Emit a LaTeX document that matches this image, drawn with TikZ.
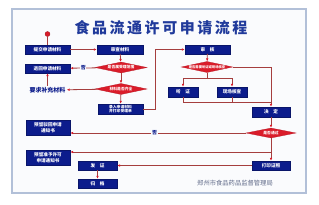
\documentclass[tikz,border=0pt]{standalone}
\usepackage{fontspec}
\setmainfont{Noto Sans CJK SC}
\usetikzlibrary{arrows.meta,positioning,shapes.geometric}
\definecolor{Navy}{RGB}{12,28,140}
\definecolor{FlowRed}{RGB}{218,28,42}
\definecolor{Wire}{RGB}{165,62,62}
\definecolor{TitleBlue}{RGB}{32,58,155}
\definecolor{FrameBlue}{RGB}{178,192,216}
\definecolor{Paper}{RGB}{250,251,253}
\definecolor{FootGray}{RGB}{98,108,138}
\tikzset{
  >={Latex[length=3pt,width=2.6pt,color=FlowRed]},
  box/.style={draw=Navy!75!black,line width=.4pt,fill=Navy,text=white,font=\fontsize{4.6}{5.6}\selectfont\bfseries,align=center,inner sep=0pt,minimum height=8.5pt},
  decision/.style={diamond,aspect=4.7,draw=FlowRed!85!black,line width=.3pt,fill=FlowRed,text=white,font=\fontsize{3.8}{4}\selectfont\bfseries,inner sep=0pt,minimum width=52pt,minimum height=11pt},
  wire/.style={draw=Wire,line width=.8pt},
  flow/.style={wire,->},
  no/.style={fill=Paper,inner sep=.6pt,text=Navy,font=\fontsize{5}{5}\selectfont\bfseries},
  note/.style={text=Navy,font=\fontsize{6}{6}\selectfont\bfseries,inner sep=1pt},
  startdot/.style={circle,fill=FlowRed,draw=FlowRed!70!black,line width=.3pt,minimum size=5pt,inner sep=0pt}
}
\begin{document}
\begin{tikzpicture}[x=1pt,y=-1pt]
  \useasboundingbox (0,0) rectangle (319,204);
  \draw[FrameBlue,line width=2.6pt,fill=Paper] (12,9) rectangle (306,193);
  \node[text=TitleBlue,font=\fontsize{15}{15}\selectfont\bfseries\addfontfeatures{LetterSpace=17}] (title) at (161,28) {食品流通许可申请流程};
  % left column
  \node[startdot] (start) at (47.5,34) {};
  \node[box,minimum width=45pt] (submit) at (47.5,49.5) {提交申请材料};
  \node[box,minimum width=46pt] (review) at (120,49.5) {审查材料};
  \node[decision] (scope) at (121,67.5) {是否属受理范围};
  \node[box,minimum width=45pt,minimum height=9pt] (reject) at (47.5,68.5) {退回申请材料};
  \node[note] (supply) at (47.5,90) {要求补充材料};
  \node[decision] (complete) at (121,89) {材料是否齐全};
  \node[box,minimum width=45pt,minimum height=10pt,font=\fontsize{3.8}{4.4}\selectfont\bfseries] (enter) at (120.5,109) {录入申请材料\\并打印受理单};
  % right column
  \node[box,minimum width=45pt] (audit) at (207.5,49.5) {审\quad 核};
  \node[decision,minimum width=51pt,font=\fontsize{3.3}{4}\selectfont\bfseries] (expert) at (207,67) {是否需要听证或现场核查};
  \node[box,minimum width=30pt,minimum height=10pt] (hear) at (183,92) {听\quad 证};
  \node[box,minimum width=30pt,minimum height=10pt] (site) at (232,92) {现场核查};
  \node[box,minimum width=38pt,minimum height=10pt] (decide) at (271,112) {决\quad 定};
  \node[decision,minimum width=50pt,minimum height=10pt] (pass) at (271,133) {是否通过};
  \node[box,minimum width=38pt,minimum height=9pt] (print) at (271,165.5) {打印证照};
  % results
  \node[box,minimum width=44pt,minimum height=15pt] (refuse) at (48,127.5) {预留驳回申请\\通知书};
  \node[box,minimum width=44pt,minimum height=15pt] (grant) at (48,157.5) {预留准予许可\\申请通知书};
  \node[box,minimum width=39pt,minimum height=9pt] (issue) at (97.5,165.5) {发\quad 证};
  \node[box,minimum width=39pt,minimum height=9pt] (archive) at (97.5,183.5) {归\quad 档};
  \node[text=FootGray,font=\fontsize{6.3}{6.3}\selectfont] (office) at (235,183) {郑州市食品药品监督管理局};
  \coordinate (split) at (207,78);
  \coordinate (join) at (271,102);
  \coordinate (yes) at (271,152);
  \draw[wire] (start) -- (submit);
  \draw[flow] (submit) -- (review);
  \draw[flow] (review) -- (scope);
  \draw[flow] (scope) -- node[no] {否} (reject);
  \draw[flow] (scope) -- (complete);
  \draw[flow] (complete) -- (supply);
  \draw[flow] (supply) -- (reject);
  \draw[flow] (complete) -- (enter);
  \draw[flow] (enter.east) -- ++(12,0) |- (audit);
  \draw[flow] (audit) -- (expert);
  \draw[wire] (expert.south) -- (split);
  \draw[flow] (split) -| (hear.north);
  \draw[flow] (split) -| (site.north);
  \draw[flow] (expert.east) -| (decide.north);
  \draw[wire] (hear.south) |- (join);
  \draw[wire] (site.south) |- (join);
  \draw[flow] (decide) -- (pass);
  \draw[flow] (pass.west) -- node[no,pos=.52] {否} (pass.west -| refuse.east);
  \draw[flow] (pass) -- (print);
  \draw[flow] (yes) -- (yes -| grant.east);
  \draw[flow] (print) -- (issue);
  \draw[flow] (issue) -- (archive);
\end{tikzpicture}
\end{document}
